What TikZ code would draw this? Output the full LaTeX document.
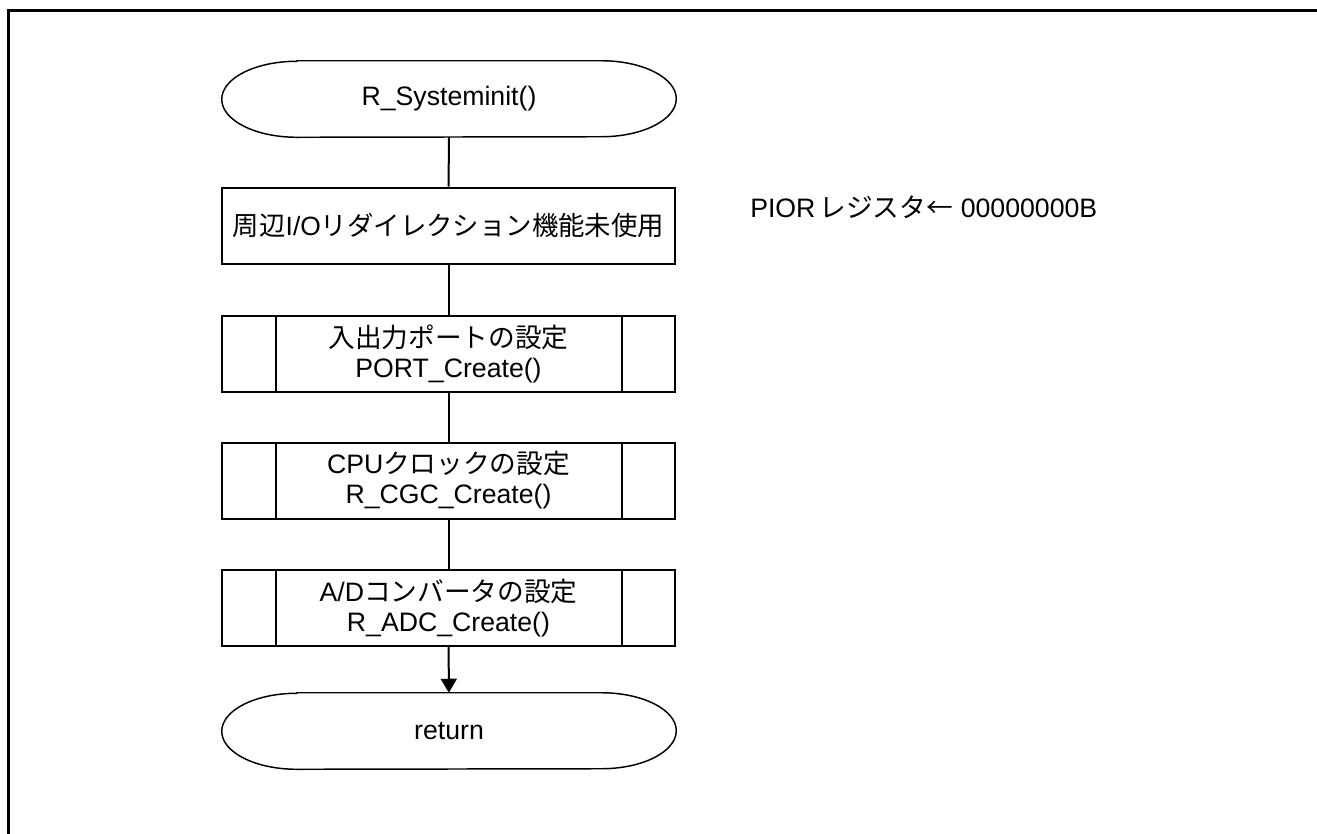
\documentclass[tikz,border=0pt]{standalone}
\usepackage{fontspec}
\setmainfont{Liberation Sans}
\newfontfamily\jp{Noto Sans CJK JP}
\usetikzlibrary{calc,arrows.meta}
\newcommand\drawterm[1]{\draw[termline] ($(#1.north west)+(75,0)$) -- ($(#1.north east)+(-75,0)$) arc[start angle=90,end angle=-90,x radius=56.25pt,y radius=28.5pt] -- ($(#1.south west)+(75,0)$) arc[start angle=270,end angle=90,x radius=56.25pt,y radius=28.5pt] -- cycle;}
\newcommand\drawsub[1]{\draw[conn] ($(#1.north west)+(55,0)$) -- ($(#1.south west)+(55,0)$);\draw[conn] ($(#1.north east)+(-54,0)$) -- ($(#1.south east)+(-54,0)$);}
\begin{document}
\begin{tikzpicture}[x=0.75pt,y=-0.75pt,
  conn/.style={line width=1.5pt},
  termline/.style={line width=1.1pt},
  procbox/.style={draw,line width=1.5pt,minimum width=339.75pt,minimum height=57pt,inner sep=0pt,align=center,font=\fontsize{20}{22.5}\selectfont},
  termbox/.style={inner sep=0pt,minimum width=340.5pt,minimum height=57pt,font=\fontsize{20}{24}\selectfont},
  ]
\useasboundingbox (0,0) rectangle (1317,833);
\draw[line width=2.25pt] (8,845) -- (8,10) -- (1325,10);

\node[termbox] (t1) at (449,99) {R\_Systeminit()};
\drawterm{t1}

\node[procbox,font=\fontsize{19.8}{22}\selectfont] (b1) at (448.5,225.5) {{\jp 周辺}I/O{\jp リダイレクション機能未使用}};
\node[procbox] (b2) at (448.5,354) {{\jp 入出力ポートの設定}\\PORT\_Create()};
\drawsub{b2}
\node[procbox] (b3) at (448.5,480.5) {CPU{\jp クロックの設定}\\R\_CGC\_Create()};
\drawsub{b3}
\node[procbox] (b4) at (448.5,608) {A/D{\jp コンバータの設定}\\R\_ADC\_Create()};
\drawsub{b4}

\node[termbox] (t2) at (449,731) {return};
\drawterm{t2}

\draw[conn] (t1) -- (b1);
\draw[conn] (b1) -- (b2);
\draw[conn] (b2) -- (b3);
\draw[conn] (b3) -- (b4);
\draw[conn,-{Triangle[length=10.5pt,width=12pt]}] (b4) -- (t2);

\node[anchor=base west,inner sep=0pt,font=\fontsize{20}{24}\selectfont] (note) at (750,217) {PIOR\hspace{3pt}{\jp レジスタ←}\hspace{6pt}00000000B};
\end{tikzpicture}
\end{document}
